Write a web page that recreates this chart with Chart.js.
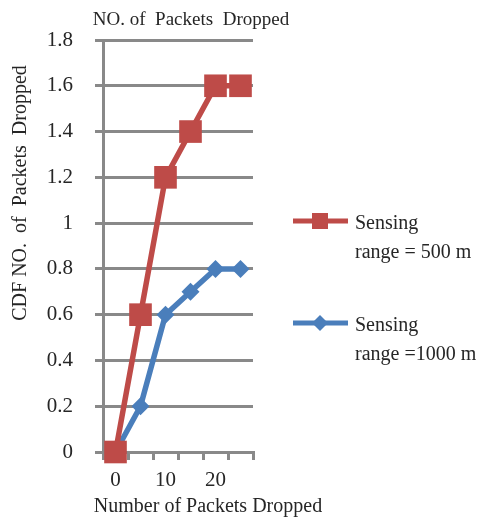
<!DOCTYPE html>
<html>
<head>
<meta charset="utf-8">
<script src="https://cdn.jsdelivr.net/npm/chart.js@4.4.1/dist/chart.umd.min.js"></script>
<style>
  body { margin: 0; background: #fff; }
  #wrap { width: 481px; height: 522px; position: relative; }
</style>
</head>
<body>
<div id="wrap"><canvas id="cdfChart"></canvas></div>
<script>
// x categories (only every other one gets a label in the picture)
const categories = ["0", "5", "10", "15", "20", "25"];
// CDF of packets dropped, per sensing range
const range500 = [0, 0.6, 1.2, 1.4, 1.6, 1.6];
const range1000 = [0, 0.2, 0.6, 0.7, 0.8, 0.8];
const seriesNames = [["Sensing", "range = 500 m"], ["Sensing", "range =1000 m"]];

const RED = "#BE4B48";
const BLUE = "#4A7EBB";
const GRID = "#898989";
const INK = "#262626";
const SERIF = '"Liberation Serif", "Times New Roman", serif';

// titles + legend drawn by hand (their positions don't follow Chart.js' defaults)
const extras = {
  id: "extras",
  afterDraw(chart) {
    const ctx = chart.ctx;
    ctx.save();
    ctx.fillStyle = INK;
    ctx.textAlign = "center";
    ctx.textBaseline = "middle";
    ctx.font = "19px " + SERIF;
    ctx.fillText("NO. of  Packets  Dropped", 191, 20);
    ctx.font = "20px " + SERIF;
    ctx.fillText("Number of Packets Dropped", 208, 507);
    ctx.save();
    ctx.translate(21, 193);
    ctx.rotate(-Math.PI / 2);
    ctx.fillText("CDF NO.  of  Packets  Dropped", 0, 0);
    ctx.restore();

    // legend
    const items = [
      { color: RED, y: 221, shape: "rect", text: seriesNames[0] },
      { color: BLUE, y: 323, shape: "diamond", text: seriesNames[1] }
    ];
    items.forEach(it => {
      ctx.strokeStyle = it.color;
      ctx.fillStyle = it.color;
      ctx.lineWidth = 5;
      ctx.beginPath();
      ctx.moveTo(293, it.y);
      ctx.lineTo(348, it.y);
      ctx.stroke();
      ctx.beginPath();
      if (it.shape === "rect") {
        ctx.rect(320 - 8, it.y - 8, 16, 16);
      } else {
        ctx.moveTo(320, it.y - 8);
        ctx.lineTo(328, it.y);
        ctx.lineTo(320, it.y + 8);
        ctx.lineTo(312, it.y);
        ctx.closePath();
      }
      ctx.fill();
      ctx.fillStyle = INK;
      ctx.textAlign = "left";
      ctx.font = "20px " + SERIF;
      ctx.fillText(it.text[0], 355, it.y + 3);
      ctx.fillText(it.text[1], 355, it.y + 32);
    });
    ctx.restore();
  }
};

const data = {
  labels: categories,
  datasets: [
    {
      label: seriesNames[0].join(" "),
      data: range500,
      borderColor: RED,
      backgroundColor: RED,
      borderWidth: 5.5,
      pointStyle: "rect",
      pointRadius: 16,
      pointBorderWidth: 0,
      tension: 0,
      clip: false
    },
    {
      label: seriesNames[1].join(" "),
      data: range1000,
      borderColor: BLUE,
      backgroundColor: BLUE,
      borderWidth: 5.5,
      pointStyle: "rectRot",
      pointRadius: 9,
      pointBorderWidth: 0,
      tension: 0,
      clip: false
    }
  ]
};

const config = {
  type: "line",
  data: data,
  options: {
    responsive: true,
    maintainAspectRatio: false,
    animation: false,
    layout: { padding: { left: 0, top: 40, right: 228, bottom: 0 } },
    scales: {
      x: {
        offset: true,
        afterFit: s => { s.height = 70; },
        border: { color: GRID, width: 3 },
        grid: {
          offset: true,
          drawOnChartArea: false,
          drawTicks: true,
          tickLength: 8,
          color: GRID,
          lineWidth: 3
        },
        ticks: {
          autoSkip: false,
          maxRotation: 0,
          padding: 8,
          color: INK,
          font: { family: SERIF, size: 21 },
          callback: function(value, idx) {
            return idx % 2 === 0 ? this.getLabelForValue(value) : "";
          }
        }
      },
      y: {
        min: 0,
        max: 1.8,
        afterFit: s => { s.width = 103; },
        border: { color: GRID, width: 3 },
        grid: {
          color: GRID,
          lineWidth: 3,
          tickLength: 8
        },
        ticks: {
          stepSize: 0.2,
          padding: 22,
          color: INK,
          font: { family: SERIF, size: 21 },
          callback: v => String(Math.round(v * 10) / 10)
        }
      }
    },
    plugins: {
      legend: { display: false },
      tooltip: { enabled: false }
    }
  },
  plugins: [extras]
};

new Chart(document.getElementById("cdfChart"), config);
</script>
</body>
</html>
